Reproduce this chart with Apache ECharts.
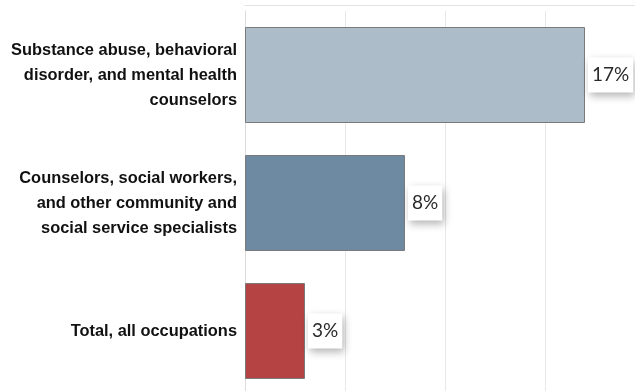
<!DOCTYPE html>
<html><head><meta charset="utf-8">
<script src="https://cdn.jsdelivr.net/npm/echarts@6/dist/echarts.min.js"></script>
<style>html,body{margin:0;padding:0;background:#fff}#c{width:635px;height:391px}</style>
</head><body><div id="c"></div>
<script>
const categories = [
  "Substance abuse, behavioral\ndisorder, and mental health\ncounselors",
  "Counselors, social workers,\nand other community and\nsocial service specialists",
  "Total, all occupations"
];
const values = [17, 8, 3];
const barColors = ["#adbcc9", "#6e8aa2", "#b54343"];

const chart = echarts.init(document.getElementById('c'), null, {renderer: 'canvas'});
chart.setOption({
  animation: false,
  grid: {left: 245, width: 400, top: 11, height: 384, containLabel: false, outerBoundsMode: 'none'},
  xAxis: {
    type: 'value', min: 0, max: 20, interval: 5, position: 'top', offset: 6,
    axisLine: {show: true, lineStyle: {color: '#e2e2e2', width: 1}},
    axisTick: {show: false}, axisLabel: {show: false},
    splitLine: {show: true, lineStyle: {color: '#e8e8e8', width: 1}}
  },
  yAxis: {
    type: 'category', data: categories, inverse: true,
    axisLine: {show: true, lineStyle: {color: '#dcdcdc'}},
    axisTick: {show: false},
    axisLabel: {
      margin: 8, align: 'right', color: '#111',
      fontFamily: 'Liberation Sans, Arial, sans-serif', fontWeight: 'bold',
      fontSize: 16.4, lineHeight: 25
    }
  },
  series: [{
    type: 'bar', barCategoryGap: '25%',
    data: values.map((v, i) => ({value: v, itemStyle: {color: barColors[i]}})),
    itemStyle: {borderColor: '#7a7a7a', borderWidth: 1},
    label: {
      show: true, position: 'right', distance: 3,
      formatter: p => p.value + '%',
      fontFamily: 'Lato, Open Sans, sans-serif', fontSize: 19, color: '#2a2a2a',
      backgroundColor: '#fff', padding: [8, 4, 8, 4],
      shadowBlur: 8, shadowColor: 'rgba(0,0,0,0.3)', shadowOffsetX: 2, shadowOffsetY: 3
    }
  }]
});
</script></body></html>
